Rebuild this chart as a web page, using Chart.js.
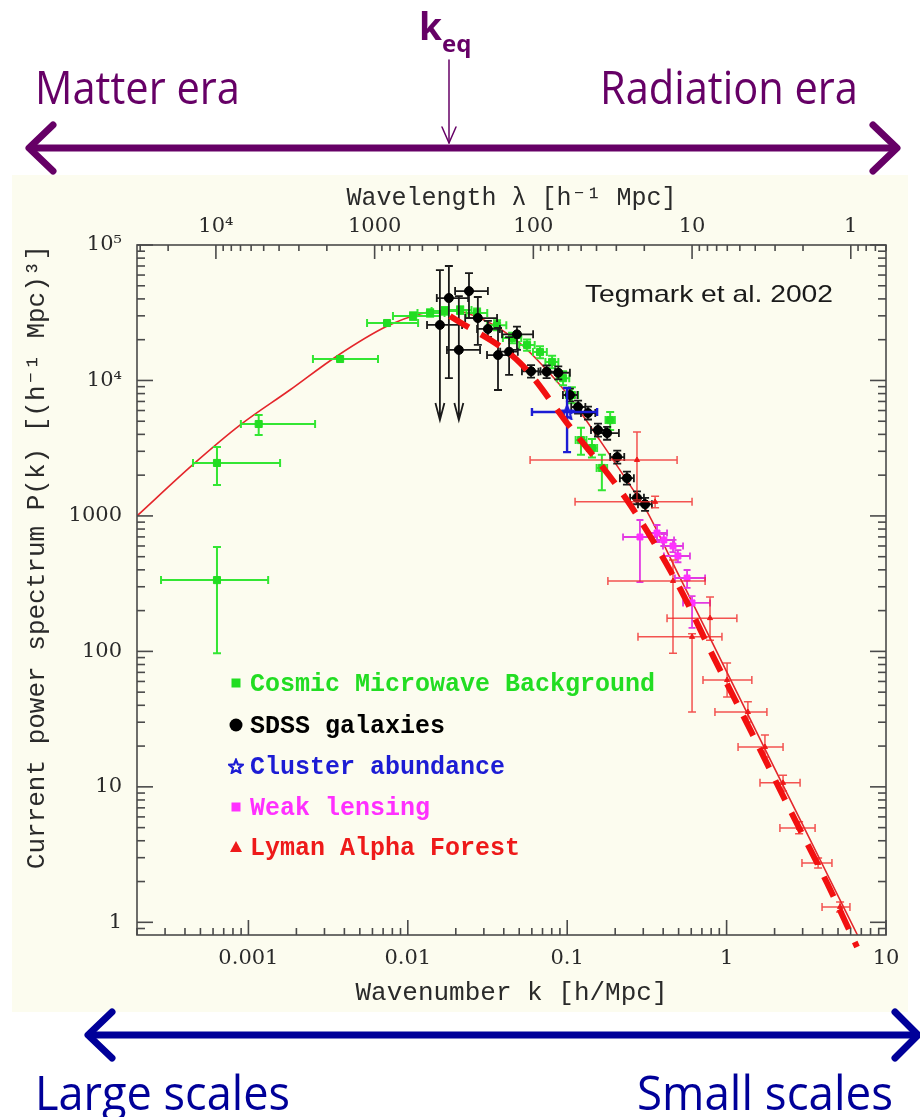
<!DOCTYPE html>
<html>
<head>
<meta charset="utf-8">
<script src="https://cdn.jsdelivr.net/npm/chart.js@4.4.1/dist/chart.umd.min.js"></script>
<style>
  html, body { margin: 0; padding: 0; background: #fff; }
  #wrap { position: relative; width: 920px; height: 1117px; overflow: hidden; }
  #paper { position: absolute; left: 12px; top: 175px; width: 896px; height: 837px; background: #fcfcef; }
  #chart { position: absolute; left: 0; top: 0; }
  #notes { position: absolute; left: 0; top: 0; pointer-events: none; }
</style>
</head>
<body>
<div id="wrap">
  <div id="paper"></div>
  <canvas id="chart" width="920" height="1117"></canvas>
  <svg id="notes" width="920" height="1117" xmlns="http://www.w3.org/2000/svg">
    <g font-family="'Open Sans', 'Noto Sans', sans-serif" fill="#660066">
      <text x="419" y="40" font-size="37" font-weight="bold">k<tspan font-size="24" dy="12">eq</tspan></text>
      <text x="35" y="104" font-size="45" textLength="205" lengthAdjust="spacingAndGlyphs">Matter era</text>
      <text x="600" y="104" font-size="45" textLength="258" lengthAdjust="spacingAndGlyphs">Radiation era</text>
    </g>
    <g stroke="#660066" fill="none" stroke-linecap="round" stroke-linejoin="round">
      <line x1="449" y1="60" x2="449" y2="143" stroke-width="1.5"/>
      <polyline points="442,127 449,143 456,127" stroke-width="1.5"/>
      <line x1="32" y1="148" x2="894" y2="148" stroke-width="7"/>
      <polyline points="53,125 29,148 53,171" stroke-width="7"/>
      <polyline points="873,125 897,148 873,171" stroke-width="7"/>
    </g>
    <g stroke="#000099" fill="none" stroke-linecap="round" stroke-linejoin="round">
      <line x1="90" y1="1035" x2="915" y2="1035" stroke-width="7"/>
      <polyline points="112,1012 88,1035 112,1058" stroke-width="7"/>
      <polyline points="895,1012 918,1035 895,1058" stroke-width="7"/>
    </g>
    <g font-family="'Open Sans', 'Noto Sans', sans-serif" fill="#000099">
      <text x="35" y="1110" font-size="47" textLength="255" lengthAdjust="spacingAndGlyphs">Large scales</text>
      <text x="637" y="1110" font-size="47" textLength="256" lengthAdjust="spacingAndGlyphs">Small scales</text>
    </g>
    <text x="585" y="302" font-family="'Liberation Sans', Arial, sans-serif" font-size="24" fill="#1a1a1a"
          textLength="248" lengthAdjust="spacingAndGlyphs">Tegmark et al. 2002</text>
  </svg>
</div>
<script>
// ---- values (k in h/Mpc, P in (h^-1 Mpc)^3) ----
const kMin = 2e-4;
const kMax = 10;
const pMin = 0.806;
const pMax = 1e5;

// theory curve (thin solid red)
const theoryK = [2e-4, 4.5e-4, 8.85e-4, 1.82e-3, 3.58e-3, 7.38e-3, 0.0119, 0.0184, 0.0296, 0.05, 0.0675, 0.1, 0.16, 0.25, 0.307, 0.5, 1, 2, 4, 6.62];
const theoryP = [1000, 2400, 4680, 8500, 15100, 25100, 31000, 33000, 28200, 19000, 13500, 7950, 3630, 1660, 1150, 367, 71, 13.7, 2.66, 0.806];

// thick dashed red line
const fitK = [0.0184, 0.0506, 0.0998, 0.237, 0.489, 0.845, 1.44, 2.5, 4.27, 6.58];
const fitP = [29900, 13500, 4850, 1310, 320, 86.5, 25.0, 6.75, 1.95, 0.658];

// Cosmic Microwave Background
const cmbK = [6.35e-4, 1.16e-3, 3.76e-3, 7.41e-3, 0.0108, 0.0138, 0.0171, 0.0213, 0.0272, 0.0363, 0.0451, 0.056, 0.0675, 0.0804, 0.0942, 0.107, 0.122, 0.143, 0.165, 0.186, 6.35e-4];
const cmbP = [2460, 4770, 14400, 26550, 29900, 31500, 32600, 33100, 31500, 25600, 20600, 18300, 16200, 13700, 10400, 7810, 3630, 3170, 2260, 5100, 336];
const cmbKLo = [4.49e-4, 8.97e-4, 2.54e-3, 5.55e-3, 8.07e-3, 0.0115, 0.0141, 0.018, 0.0233, 0.0315, 0.0395, 0.05, 0.061, 0.073, 0.086, 0.098, 0.113, 0.133, 0.153, 0.174, 2.83e-4];
const cmbKHi = [1.58e-3, 2.62e-3, 6.5e-3, 0.0116, 0.0159, 0.017, 0.0206, 0.0251, 0.0315, 0.0415, 0.0515, 0.0625, 0.0745, 0.088, 0.103, 0.117, 0.132, 0.154, 0.178, 0.199, 1.33e-3];
const cmbPLo = [1690, 3960, null, null, 28000, 29500, 30500, 31000, 29000, 23500, 18800, 16600, 14600, 12300, 9200, 6800, 2830, 2700, 1550, 4300, 97];
const cmbPHi = [3230, 5560, null, null, 31900, 33600, 34800, 35300, 34000, 27800, 22500, 20100, 17900, 15200, 11700, 8900, 4480, 3700, 2830, 5850, 590];

// SDSS galaxies
const sdssK = [0.0159, 0.0181, 0.0209, 0.0242, 0.0275, 0.0318, 0.0368, 0.0432, 0.0484, 0.0593, 0.0743, 0.0879, 0.104, 0.117, 0.135, 0.156, 0.178, 0.206, 0.237, 0.274, 0.308];
const sdssP = [25700, 40600, 16800, 45700, 28900, 24000, 15400, 16300, 21900, 11700, 11600, 11400, 7810, 6370, 5750, 4310, 4090, 2720, 1900, 1360, 1220];
const sdssKLo = [0.0132, 0.0152, 0.0176, 0.0198, 0.0229, 0.0272, 0.0314, 0.038, 0.039, 0.052, 0.066, 0.0746, 0.094, 0.106, 0.122, 0.141, 0.15, 0.186, 0.214, 0.248, 0.278];
const sdssKHi = [0.0219, 0.0239, 0.0284, 0.0318, 0.0363, 0.0378, 0.0457, 0.049, 0.0611, 0.068, 0.084, 0.104, 0.116, 0.13, 0.15, 0.173, 0.211, 0.228, 0.262, 0.303, 0.34];
const sdssPLo = [5100, 10400, 5100, 28900, 18300, 21000, 8500, 11000, 16800, 10500, 10400, 10200, 7000, 5700, 5150, 3850, 3650, 2430, 1700, 1220, 1090];
const sdssPHi = [65300, 70000, 42000, 62100, 41300, 27500, 24400, 20900, 25000, 13000, 12900, 12700, 8700, 7100, 6400, 4800, 4550, 3030, 2120, 1520, 1360];
const sdssDownArrows = [0, 2];

// Cluster abundance
const clusterK = [0.0998];
const clusterP = [5850];
const clusterKLo = [0.0601];
const clusterKHi = [0.154];
const clusterPLo = [2960];
const clusterPHi = [8800];

// Weak lensing
const wlK = [0.286, 0.366, 0.404, 0.461, 0.495, 0.565, 0.607];
const wlP = [699, 748, 664, 600, 506, 348, 228];
const wlKLo = [0.224, 0.317, 0.351, 0.399, 0.404, 0.474, 0.533];
const wlKHi = [0.366, 0.423, 0.468, 0.533, 0.589, 0.733, 0.787];
const wlPLo = [325, 642, 600, 540, 455, 294, 149];
const wlPHi = [933, 857, 735, 665, 560, 399, 256];

// Lyman Alpha Forest
const lyaK = [0.274, 0.356, 0.461, 0.787, 0.607, 1.007, 1.36, 1.74, 2.26, 2.85, 3.75, 5.15];
const lyaP = [2590, 1270, 331, 176, 128, 61.5, 35.7, 19.7, 10.7, 4.97, 2.74, 1.30];
const lyaKLo = [0.0585, 0.112, 0.18, 0.423, 0.278, 0.711, 0.845, 1.18, 1.62, 2.16, 2.97, 3.97];
const lyaKHi = [0.489, 0.607, 0.733, 1.16, 0.935, 1.44, 1.79, 2.26, 2.89, 3.59, 4.58, 5.94];
const lyaPLo = [1310, 1150, 97, 121, 35.7, 46, 30.1, 16.6, 9.3, 4.5, 2.52, 1.19];
const lyaPHi = [4160, 1400, 472, 252, 135, 82, 42.4, 24.1, 12.2, 5.52, 2.99, 1.41];

// tick labels
const kTicks = [0.001, 0.01, 0.1, 1, 10];
const kTickLabels = ['0.001', '0.01', '0.1', '1', '10'];
const lambdaTicks = [1, 10, 100, 1000, 10000];
const lambdaTickLabels = ['1', '10', '100', '1000', '10⁴'];
const pTicks = [1, 10, 100, 1000, 10000, 100000];
const pTickLabels = ['1', '10', '100', '1000', '10⁴', '10⁵'];

// ---- drawing ----
const pts = (ks, ps) => ks.map((k, i) => ({x: k, y: ps[i]}));

function starImage(size, color) {
    const c = document.createElement('canvas');
    c.width = c.height = size;
    const g = c.getContext('2d');
    g.strokeStyle = color;
    g.lineWidth = 2.2;
    g.beginPath();
    for (let i = 0; i < 10; i++) {
        const a = -Math.PI / 2 + i * Math.PI / 5;
        const rr = i % 2 ? size * 0.2 : size * 0.45;
        const px = size / 2 + rr * Math.cos(a), py = size / 2 + 1 + rr * Math.sin(a);
        if (i) g.lineTo(px, py); else g.moveTo(px, py);
    }
    g.closePath();
    g.stroke();
    return c;
}
const star = starImage(16, '#1c1cd4');

const monoFamily = '"Liberation Mono", "Courier New", monospace';
const titleFont = {family: monoFamily, size: 26};
const topTitleFont = {family: monoFamily, size: 25};
const tickFont = {family: '"DejaVu Serif", "Liberation Serif", serif', size: 21};
const inkColor = '#2a2a2a';

function scatterSet(label, k, p, err, color, style, radius, order) {
    return {
        label: label,
        data: pts(k, p),
        errors: err,
        pointStyle: style,
        pointRadius: radius,
        backgroundColor: color,
        borderColor: color,
        borderWidth: 1,
        order: order,
        legendColor: color
    };
}

const datasets = [
    {
        label: 'theory',
        data: pts(theoryK, theoryP),
        showLine: true,
        borderColor: '#e4262b',
        borderWidth: 1.6,
        pointRadius: 0,
        cubicInterpolationMode: 'monotone',
        order: 7
    },
    scatterSet('Cosmic Microwave Background', cmbK, cmbP,
        {kLo: cmbKLo, kHi: cmbKHi, pLo: cmbPLo, pHi: cmbPHi, color: '#33e633', width: 2, cap: 4},
        '#22dd22', 'rect', 5, 6),
    scatterSet('SDSS galaxies', sdssK, sdssP,
        {kLo: sdssKLo, kHi: sdssKHi, pLo: sdssPLo, pHi: sdssPHi, arrows: sdssDownArrows, color: '#1a1a1a', width: 1.8, cap: 4},
        '#000000', 'circle', 4.5, 5),
    scatterSet('Cluster abundance', clusterK, clusterP,
        {kLo: clusterKLo, kHi: clusterKHi, pLo: clusterPLo, pHi: clusterPHi, color: '#1c1cd4', width: 2.4, cap: 4},
        '#1c1cd4', star, 8, 4),
    scatterSet('Weak lensing', wlK, wlP,
        {kLo: wlKLo, kHi: wlKHi, pLo: wlPLo, pHi: wlPHi, color: '#e23ae2', width: 1.8, cap: 3.5},
        '#ff30ff', 'rect', 4.2, 3),
    scatterSet('Lyman Alpha Forest', lyaK, lyaP,
        {kLo: lyaKLo, kHi: lyaKHi, pLo: lyaPLo, pHi: lyaPHi, color: 'rgba(240,40,40,0.8)', width: 1.5, cap: 4},
        '#ee1a1a', 'triangle', 3, 2),
    {
        label: 'fit',
        data: pts(fitK, fitP),
        showLine: true,
        borderColor: '#f21010',
        borderWidth: 6,
        borderDash: [22, 14],
        pointRadius: 0,
        cubicInterpolationMode: 'monotone',
        clip: false,
        order: 0
    }
];

// error bars drawn just before each data set's markers
const errorBars = {
    id: 'errorBars',
    beforeDatasetDraw(chart, args) {
        const ds = chart.data.datasets[args.index];
        const e = ds.errors;
        if (!e) return;
        const {ctx, chartArea: a, scales: {x, y}} = chart;
        ctx.save();
        ctx.beginPath();
        ctx.rect(a.left, a.top, a.width, a.height);
        ctx.clip();
        ctx.strokeStyle = e.color;
        ctx.lineWidth = e.width;
        const cap = e.cap;
        ds.data.forEach((pt, i) => {
            const px = x.getPixelForValue(pt.x), py = y.getPixelForValue(pt.y);
            ctx.beginPath();
            if (e.kLo[i] != null) {
                const x1 = x.getPixelForValue(e.kLo[i]), x2 = x.getPixelForValue(e.kHi[i]);
                ctx.moveTo(x1, py); ctx.lineTo(x2, py);
                ctx.moveTo(x1, py - cap); ctx.lineTo(x1, py + cap);
                ctx.moveTo(x2, py - cap); ctx.lineTo(x2, py + cap);
            }
            if (e.pLo[i] != null) {
                const y1 = y.getPixelForValue(e.pHi[i]), y2 = y.getPixelForValue(e.pLo[i]);
                ctx.moveTo(px, y1); ctx.lineTo(px, y2);
                ctx.moveTo(px - cap, y1); ctx.lineTo(px + cap, y1);
                if (e.arrows && e.arrows.includes(i)) {
                    ctx.moveTo(px - 4.5, y2 - 17); ctx.lineTo(px, y2); ctx.lineTo(px + 4.5, y2 - 17);
                } else {
                    ctx.moveTo(px - cap, y2); ctx.lineTo(px + cap, y2);
                }
            }
            ctx.stroke();
        });
        ctx.restore();
    }
};

// box with inward log ticks on all four sides
const frameTicks = {
    id: 'frameTicks',
    afterDatasetsDraw(chart) {
        const {ctx, chartArea: a, scales} = chart;
        ctx.save();
        ctx.strokeStyle = '#4a4a4a';
        ctx.lineWidth = 1.6;
        ctx.strokeRect(a.left, a.top, a.width, a.height);
        const seg = (x1, y1, x2, y2) => { ctx.beginPath(); ctx.moveTo(x1, y1); ctx.lineTo(x2, y2); ctx.stroke(); };
        const eachLogTick = (scale, fn) => {
            const lo = Math.floor(Math.log10(scale.min)), hi = Math.ceil(Math.log10(scale.max));
            for (let ex = lo; ex <= hi; ex++) {
                for (let m = 1; m < 10; m++) {
                    const v = m * Math.pow(10, ex);
                    if (v < scale.min * 0.999 || v > scale.max * 1.001) continue;
                    fn(scale.getPixelForValue(v), m === 1);
                }
            }
        };
        eachLogTick(scales.x, (px, major) => seg(px, a.bottom, px, a.bottom - (major ? 15 : 7)));
        eachLogTick(scales.xTop, (px, major) => seg(px, a.top, px, a.top + (major ? 14 : 6)));
        eachLogTick(scales.y, (py, major) => {
            const L = major ? 16 : 8;
            seg(a.left, py, a.left + L, py);
            seg(a.right, py, a.right - L, py);
        });
        ctx.restore();
    }
};

// legend drawn inside the plot, one coloured row per data set
const dataLegend = {
    id: 'dataLegend',
    afterDatasetsDraw(chart, args, opts) {
        const ctx = chart.ctx;
        ctx.save();
        ctx.font = 'bold 25px ' + monoFamily;
        ctx.textBaseline = 'alphabetic';
        let row = 0;
        chart.data.datasets.forEach(ds => {
            if (!ds.errors) return;
            const cy = opts.rowY[row++];
            const mx = opts.markerX;
            ctx.fillStyle = ds.legendColor;
            ctx.strokeStyle = ds.legendColor;
            if (ds.pointStyle === 'rect') {
                ctx.fillRect(mx - 4.5, cy - 4.5, 9, 9);
            } else if (ds.pointStyle === 'circle') {
                ctx.beginPath(); ctx.arc(mx, cy, 6.5, 0, 2 * Math.PI); ctx.fill();
            } else if (ds.pointStyle === 'triangle') {
                ctx.beginPath(); ctx.moveTo(mx, cy - 6); ctx.lineTo(mx + 6, cy + 5); ctx.lineTo(mx - 6, cy + 5); ctx.closePath(); ctx.fill();
            } else {
                ctx.drawImage(ds.pointStyle, mx - 8, cy - 8);
            }
            ctx.fillText(ds.label, opts.textX, cy + 8);
        });
        ctx.restore();
    }
};

new Chart(document.getElementById('chart').getContext('2d'), {
    type: 'scatter',
    data: {datasets: datasets},
    options: {
        responsive: false,
        animation: false,
        layout: {padding: {left: 12, right: 34, top: 175, bottom: 105}},
        plugins: {
            legend: {display: false},
            tooltip: {enabled: false},
            dataLegend: {markerX: 236, textX: 250, rowY: [683, 725, 766, 807, 847]}
        },
        scales: {
            x: {
                type: 'logarithmic',
                position: 'bottom',
                min: kMin,
                max: kMax,
                afterFit: s => { s.height = 77; },
                afterBuildTicks: s => { s.ticks = kTicks.map(v => ({value: v})); },
                grid: {display: false, drawTicks: false},
                border: {display: false},
                ticks: {autoSkip: false, maxRotation: 0, padding: 11, font: tickFont, color: inkColor,
                        callback: (v, i) => kTickLabels[i]},
                title: {display: true, text: 'Wavenumber k [h/Mpc]', font: titleFont, color: inkColor,
                        padding: {top: 0, bottom: 3}}
            },
            xTop: {
                type: 'logarithmic',
                position: 'top',
                reverse: true,
                min: 2 * Math.PI / kMax,
                max: 2 * Math.PI / kMin,
                afterFit: s => { s.height = 70; },
                afterBuildTicks: s => { s.ticks = lambdaTicks.map(v => ({value: v})); },
                grid: {display: false, drawTicks: false},
                border: {display: false},
                ticks: {autoSkip: false, maxRotation: 0, padding: 6, font: tickFont, color: inkColor,
                        callback: (v, i) => lambdaTickLabels[i]},
                title: {display: true, text: 'Wavelength λ [h⁻¹ Mpc]', font: topTitleFont, color: inkColor,
                        padding: {top: 8, bottom: 0}}
            },
            y: {
                type: 'logarithmic',
                min: pMin,
                max: pMax,
                afterFit: s => { s.width = 125; },
                afterBuildTicks: s => { s.ticks = pTicks.map(v => ({value: v})); },
                grid: {display: false, drawTicks: false},
                border: {display: false},
                ticks: {autoSkip: false, padding: 15, font: tickFont, color: inkColor,
                        callback: (v, i) => pTickLabels[i]},
                title: {display: true, align: 'end', text: 'Current power spectrum P(k) [(h⁻¹ Mpc)³]',
                        font: titleFont, color: inkColor, padding: {top: 10, bottom: 0}}
            }
        }
    },
    plugins: [errorBars, frameTicks, dataLegend]
});
</script>
</body>
</html>
